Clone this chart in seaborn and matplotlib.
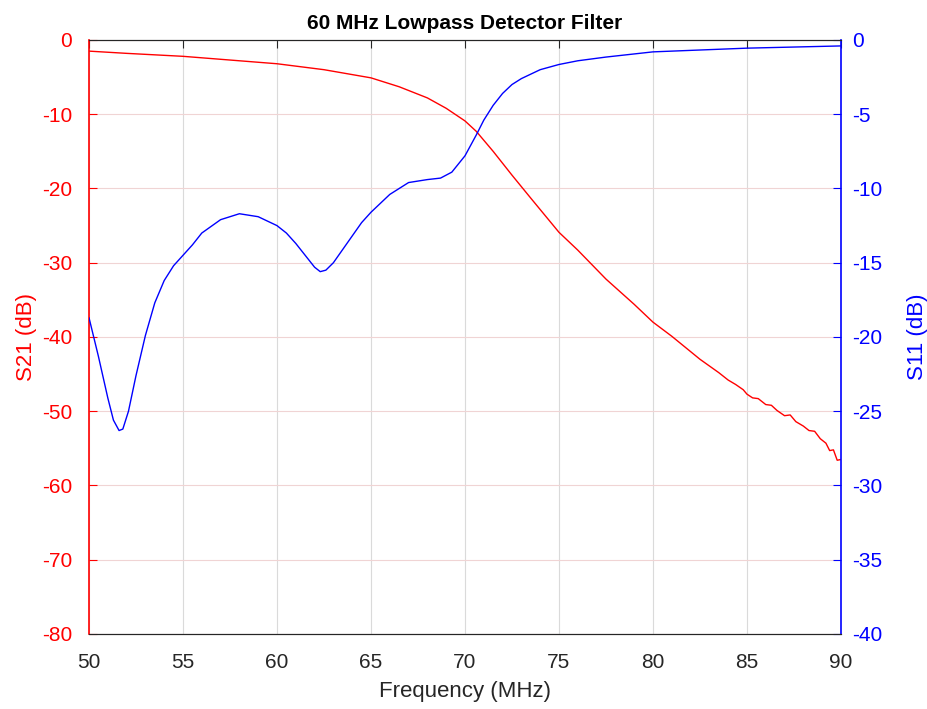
import pandas as pd
import seaborn as sns
import matplotlib
matplotlib.use("Agg")
import matplotlib.pyplot as plt

sns.set_style("white")
plt.rcParams["font.family"] = ["Liberation Sans", "DejaVu Sans"]
plt.rcParams["axes.unicode_minus"] = False

# S21 (left axis, dB)
s21_freq = [50, 52, 55, 57.5, 60, 62.5, 65, 66.5, 68, 69, 70, 70.6, 71.5, 72.5, 73.5,
            75, 76, 77.5, 79, 80, 81, 82.5, 83.5, 84, 84.4, 84.8, 85, 85.3, 85.6, 86,
            86.3, 86.6, 87, 87.3, 87.6, 88, 88.3, 88.6, 88.9, 89.2, 89.4, 89.6, 89.8, 90]
s21_db = [-1.5, -1.8, -2.2, -2.7, -3.2, -4.0, -5.1, -6.3, -7.8, -9.2, -10.9, -12.3, -15.0,
          -18.2, -21.3, -25.9, -28.3, -32.2, -35.6, -38.0, -39.9, -43.0, -44.8, -45.8,
          -46.4, -47.1, -47.7, -48.2, -48.3, -49.1, -49.2, -49.9, -50.6, -50.5, -51.4,
          -52.0, -52.6, -52.7, -53.7, -54.3, -55.3, -55.2, -56.6, -56.5]

# S11 (right axis, dB)
s11_freq = [50, 50.5, 51, 51.3, 51.6, 51.8, 52.1, 52.5, 53, 53.5, 54, 54.5, 55, 55.5, 56,
            57, 58, 59, 60, 60.5, 61, 61.5, 62, 62.3, 62.6, 63, 63.5, 64, 64.5, 65,
            65.5, 66, 66.5, 67, 68, 68.7, 69.3, 70, 70.6, 71, 71.5, 72, 72.5, 73, 74,
            75, 76, 77.5, 80, 85, 90]
s11_db = [-18.7, -21.3, -24.1, -25.6, -26.3, -26.2, -25.0, -22.6, -19.9, -17.7, -16.2,
          -15.2, -14.5, -13.8, -13.0, -12.1, -11.7, -11.9, -12.5, -13.0, -13.7, -14.5,
          -15.3, -15.6, -15.5, -15.0, -14.1, -13.2, -12.3, -11.6, -11.0, -10.4, -10.0,
          -9.6, -9.4, -9.3, -8.9, -7.8, -6.4, -5.4, -4.4, -3.6, -3.0, -2.6, -2.0,
          -1.65, -1.4, -1.15, -0.8, -0.55, -0.4]

s21 = pd.DataFrame({"freq": s21_freq, "db": s21_db})
s11 = pd.DataFrame({"freq": s11_freq, "db": s11_db})

red = "#ff0000"
blue = "#0000ff"
dark = "#262626"

fig = plt.figure(figsize=(9.28, 7.09), dpi=100)
ax = fig.add_axes([0.0959, 0.1058, 0.8103, 0.8378])
ax2 = ax.twinx()

sns.lineplot(s21, x="freq", y="db", ax=ax, color=red, linewidth=1, estimator=None)
sns.lineplot(s11, x="freq", y="db", ax=ax2, color=blue, linewidth=1, estimator=None)

ax.set_xlim(50, 90)
ax.set_ylim(-80, 0)
ax2.set_ylim(-40, 0)
ax.set_xticks(range(50, 91, 5))
ax.set_yticks(range(-80, 1, 10))
ax2.set_yticks(range(-40, 1, 5))

# grid: vertical gray, horizontal tinted like the left axis
ax.xaxis.grid(True, color="#dadada", linewidth=0.8)
ax.yaxis.grid(True, color="#f0d4d4", linewidth=0.8)

for a in (ax, ax2):
    a.tick_params(direction="in", length=6, width=0.8, labelsize=15, top=True)
ax.tick_params(axis="y", colors=red, pad=12)
ax.tick_params(axis="x", colors=dark, labelcolor=dark, pad=14)
ax2.tick_params(axis="y", colors=blue, pad=8)

ax.spines["left"].set_color(red)
ax.spines["left"].set_linewidth(1.2)
ax.spines["right"].set_visible(False)
ax2.spines["left"].set_visible(False)
ax2.spines["right"].set_color(blue)
ax2.spines["right"].set_linewidth(1.2)
for a in (ax, ax2):
    a.spines["top"].set_color(dark)
    a.spines["bottom"].set_color(dark)

ax.set_xlabel("Frequency (MHz)", fontsize=16, color=dark, labelpad=6)
ax.set_ylabel("S21 (dB)", fontsize=16, color=red, labelpad=4)
ax2.set_ylabel("S11 (dB)", fontsize=16, color=blue, labelpad=18)
ax.set_title("60 MHz Lowpass Detector Filter", fontsize=15, fontweight="bold",
             color="black", pad=8)

fig.savefig("out.png", dpi=100)
